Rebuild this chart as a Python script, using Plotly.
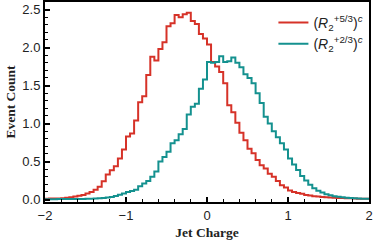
import numpy as np
import plotly.graph_objects as go

# bin edges of the histograms (80 bins of width 0.05 from -2 to 2)
bin_lo, bin_hi, n_bins = -2.0, 2.0, 80

red_vals = [0.01, 0.013, 0.013, 0.015, 0.018, 0.025, 0.03, 0.04, 0.05, 0.06,
            0.08, 0.10, 0.13, 0.17, 0.24, 0.33, 0.385, 0.44, 0.54, 0.66,
            0.83, 0.87, 1.04, 1.28, 1.36, 1.64, 1.88, 1.83, 1.98, 2.07,
            2.28, 2.32, 2.43, 2.40, 2.44, 2.46, 2.35, 2.31, 2.18, 2.12,
            2.04, 1.81, 1.75, 1.68, 1.53, 1.24, 1.15, 1.01, 0.88, 0.78,
            0.67, 0.61, 0.52, 0.45, 0.41, 0.34, 0.30, 0.245, 0.19, 0.16,
            0.12, 0.10, 0.085, 0.075, 0.06, 0.055, 0.045, 0.04, 0.035, 0.03,
            0.028, 0.025, 0.022, 0.02, 0.018, 0.016, 0.014, 0.012, 0.01, 0.01]

teal_vals = [0.005, 0.005, 0.005, 0.006, 0.006, 0.007, 0.007, 0.008, 0.008, 0.009,
             0.01, 0.011, 0.013, 0.016, 0.02, 0.026, 0.034, 0.047, 0.065, 0.08,
             0.10, 0.114, 0.13, 0.175, 0.21, 0.245, 0.30, 0.37, 0.50, 0.56,
             0.63, 0.74, 0.78, 0.86, 0.93, 1.12, 1.22, 1.26, 1.46, 1.58,
             1.81, 1.80, 1.81, 1.885, 1.81, 1.82, 1.87, 1.80, 1.74, 1.65,
             1.60, 1.53, 1.40, 1.27, 1.09, 1.00, 0.90, 0.82, 0.74, 0.66,
             0.54, 0.46, 0.39, 0.31, 0.25, 0.195, 0.15, 0.117, 0.093, 0.07,
             0.057, 0.045, 0.038, 0.032, 0.025, 0.02, 0.016, 0.013, 0.011, 0.01]

series_names = ["(<i>R</i><sub>2</sub><sup>+5/3</sup>)<sup><i>c</i></sup>",
                "(<i>R</i><sub>2</sub><sup>+2/3</sup>)<sup><i>c</i></sup>"]
series_colors = ["#d63228", "#14918f"]

x_ticks = [-2, -1, 0, 1, 2]
y_ticks = [0.0, 0.5, 1.0, 1.5, 2.0, 2.5]

edges = np.linspace(bin_lo, bin_hi, n_bins + 1)

fig = go.Figure()
for vals, name, col in zip([red_vals, teal_vals], series_names, series_colors):
    xs = list(edges)
    ys = list(vals) + [vals[-1]]
    fig.add_trace(go.Scatter(x=xs, y=ys, mode="lines", line_shape="hv",
                             line=dict(color=col, width=2), name=name))

tickfont = dict(family="Liberation Sans, Arial, sans-serif", size=13, color="#222")
titlefont = dict(family="Liberation Serif, Times New Roman, serif", size=13.5, color="#222")

fig.update_layout(
    width=374, height=240,
    margin=dict(l=45, r=5, t=2, b=38, autoexpand=False),
    paper_bgcolor="white", plot_bgcolor="white",
    showlegend=True,
    legend=dict(x=0.705, y=0.975, xanchor="left", yanchor="top",
                font=dict(family="Liberation Sans, Arial, sans-serif", size=14, color="#222"),
                bgcolor="rgba(0,0,0,0)", itemwidth=30),
)
fig.update_xaxes(range=[-2, 2], tickvals=x_ticks, ticks="inside", ticklen=5, tickwidth=1.5,
                 tickcolor="black", showline=True, linecolor="black", linewidth=2, mirror=True,
                 showgrid=False, zeroline=False, tickfont=tickfont, automargin=False,
                 minor=dict(dtick=0.2, ticks="inside", ticklen=3, tickwidth=1, tickcolor="black"),
                 title=dict(text="<b>Jet Charge</b>", font=titlefont, standoff=6))
fig.update_yaxes(range=[-0.032, 2.6], tickvals=y_ticks, tickformat=".1f", ticks="inside",
                 ticklen=5, tickwidth=1.5, tickcolor="black", showline=True, linecolor="black",
                 linewidth=2, mirror=True, showgrid=False, zeroline=False, tickfont=tickfont,
                 automargin=False,
                 minor=dict(dtick=0.1, ticks="inside", ticklen=3, tickwidth=1, tickcolor="black"),
                 title=dict(text="<b>Event Count</b>", font=titlefont, standoff=4))

fig.write_html("out.html", config={"displayModeBar": False},
               post_script="document.body.style.margin='0px';document.body.style.padding='0px';")
